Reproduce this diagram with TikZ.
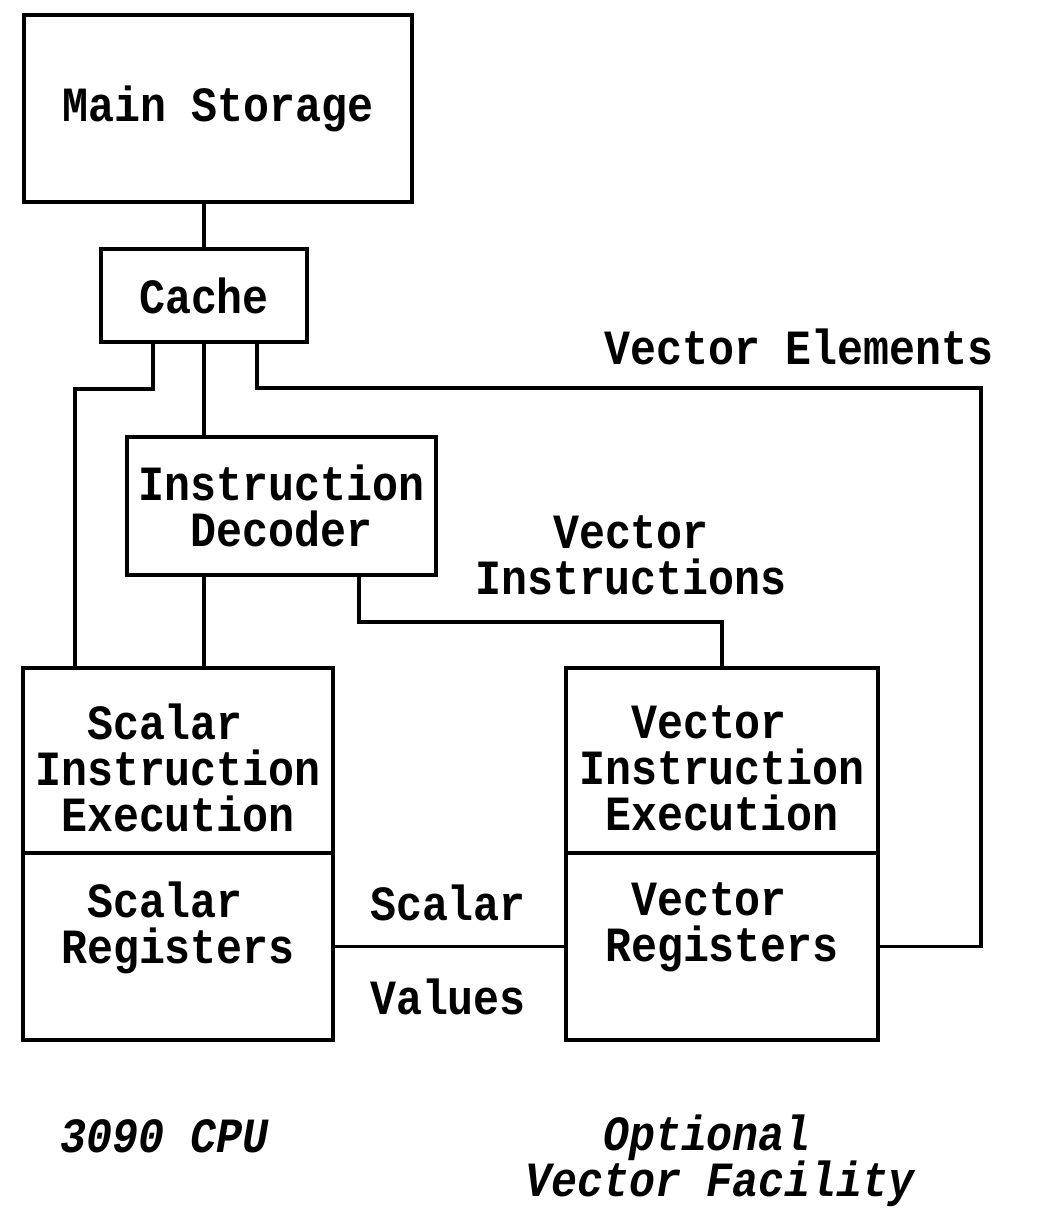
\documentclass[tikz,border=0pt]{standalone}
\usepackage{fontspec}
\setmonofont[FakeStretch=0.88]{Liberation Mono}
\begin{document}
\begin{tikzpicture}[x=1cm,y=1cm,line width=2.2pt,
    every node/.style={font=\ttfamily\bfseries\fontsize{28}{26.2}\selectfont,align=center,inner sep=0pt},
    capt/.style={font=\ttfamily\bfseries\itshape\fontsize{28}{26.2}\selectfont}]
  \useasboundingbox (0,0) rectangle (20.74,24.3);
  \node[draw,minimum width=7.76cm,minimum height=3.74cm] (ms) at (4.36,22.13) {Main Storage};
  \node[draw,minimum width=4.12cm,minimum height=1.86cm] (cache) at (4.08,18.39) {Cache};
  \node[draw,minimum width=6.18cm,minimum height=2.76cm] (dec) at (5.63,14.18) {Instruction\\Decoder};
  \node[draw,minimum width=6.2cm,minimum height=3.7cm,label={[yshift=-0.15cm]center:Scalar\phantom{x}\\Instruction\\Execution}] (sexec) at (3.56,9.09) {};
  \node[draw,minimum width=6.2cm,minimum height=3.74cm,label={[yshift=0.38cm]center:Scalar\phantom{x}\\Registers}] (sreg) at (3.56,5.37) {};
  \node[draw,minimum width=6.24cm,minimum height=3.7cm,label={[yshift=-0.15cm]center:Vector\phantom{x}\\Instruction\\Execution}] (vexec) at (14.44,9.09) {};
  \node[draw,minimum width=6.24cm,minimum height=3.74cm,label={[yshift=0.38cm]center:Vector\phantom{x}\\Registers}] (vreg) at (14.44,5.37) {};
  \coordinate (lft) at (1.5,16.52);
  \coordinate (rgt) at (19.62,16.54);
  \draw (cache.north) -- (cache.north |- ms.south);
  \draw ([xshift=-1.02cm]cache.south) |- (lft) -- (lft |- sexec.north);
  \draw (cache.south) -- (cache.south |- dec.north);
  \draw ([xshift=1.06cm]cache.south) |- (rgt) -- (rgt |- vreg.east) -- (vreg.east);
  \draw (cache.south |- dec.south) -- (cache.south |- sexec.north);
  \draw ([xshift=1.55cm]dec.south) -- ++(0,-0.9) -| (vexec.north);
  \draw (sreg) -- (vreg);
  \node (velem) at (15.98,17.36) {Vector Elements};
  \node (vinstr) at (12.62,13.19) {Vector\\Instructions};
  \node (scal) at (8.96,6.24) {Scalar};
  \node (vals) at (8.96,4.36) {Values};
  \node[capt] (cpu) at (3.29,1.58) {3090 CPU};
  \node[capt] (vf) at (14.4,1.08) {Optional\phantom{x}\\Vector Facility};
\end{tikzpicture}
\end{document}
